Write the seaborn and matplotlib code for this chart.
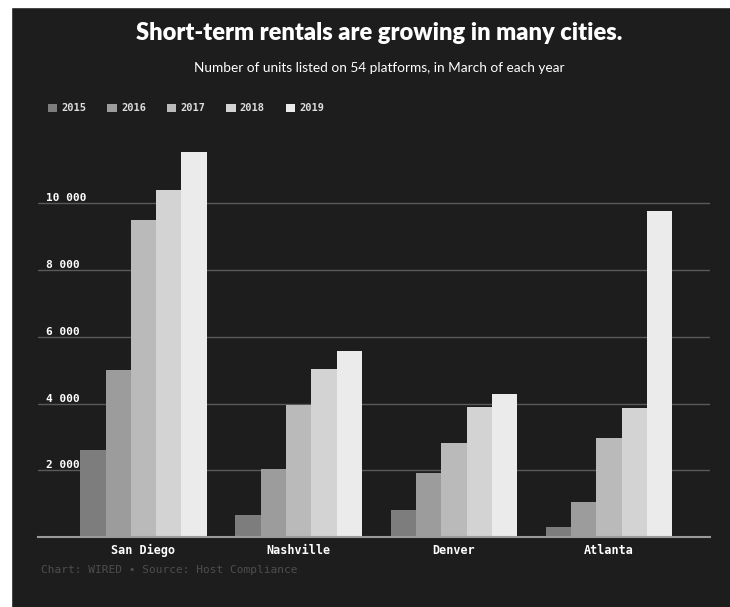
import pandas as pd
import matplotlib
matplotlib.use('Agg')
import matplotlib.pyplot as plt
import seaborn as sns
from matplotlib.patches import Rectangle

# Data (units listed)
cities = ['San Diego', 'Nashville', 'Denver', 'Atlanta']
years = ['2015', '2016', '2017', '2018', '2019']
units_2015 = [2600, 660, 800, 310]
units_2016 = [5000, 2050, 1910, 1040]
units_2017 = [9500, 3960, 2810, 2960]
units_2018 = [10400, 5050, 3910, 3870]
units_2019 = [11550, 5580, 4290, 9760]
y_ticks = [2000, 4000, 6000, 8000, 10000]
y_tick_labels = ['2 000', '4 000', '6 000', '8 000', '10 000']

bg = '#1d1d1d'
palette = ['#7d7d7d', '#9c9c9c', '#bababa', '#d3d3d3', '#ebebeb']
mono = 'DejaVu Sans Mono'

rows = []
for yr, vals in zip(years, [units_2015, units_2016, units_2017, units_2018, units_2019]):
    for c, v in zip(cities, vals):
        rows.append({'city': c, 'year': yr, 'units': v})
df = pd.DataFrame(rows)

sns.set_theme(style='dark')
fig = plt.figure(figsize=(7.3, 6.07), dpi=100, facecolor=bg)
ax = fig.add_axes([0.052, 0.115, 0.9205, 0.660])
ax.set_facecolor(bg)

sns.barplot(data=df, x='city', y='units', hue='year', palette=palette,
            width=0.815, gap=0, saturation=1, ax=ax, edgecolor='none')

ax.set_xlim(-0.68, 3.65)
ax.set_ylim(0, 12000)
ax.set_yticks(y_ticks)
ax.set_yticklabels(y_tick_labels)
ax.grid(axis='y', color='#5a5a5a', linewidth=1.0)
ax.grid(axis='x', visible=False)
ax.set_axisbelow(True)
for s in ['top', 'right', 'left']:
    ax.spines[s].set_visible(False)
ax.spines['bottom'].set_color('#9a9a9a')
ax.spines['bottom'].set_linewidth(1.5)
ax.set_xlabel('')
ax.set_ylabel('')

ax.tick_params(axis='y', length=0, pad=-6, labelsize=8, labelcolor='white')
for lab in ax.get_yticklabels():
    lab.set_horizontalalignment('left')
    lab.set_verticalalignment('bottom')
    lab.set_fontfamily(mono)
    lab.set_fontweight('bold')
ax.tick_params(axis='x', length=0, pad=5, labelsize=8.5, labelcolor='white')
for lab in ax.get_xticklabels():
    lab.set_fontfamily(mono)
    lab.set_fontweight('bold')

leg = ax.legend(loc='upper left', bbox_to_anchor=(0.053, 0.845), bbox_transform=fig.transFigure,
                ncol=5, frameon=False, handlelength=0.9, handleheight=0.9,
                handletextpad=0.4, columnspacing=2.0,
                prop={'family': mono, 'size': 7.5, 'weight': 'bold'})
for t in leg.get_texts():
    t.set_color('#dddddd')

fig.text(0.52, 0.945, 'Short-term rentals are growing in many cities.',
         ha='center', va='center', color='white', fontsize=17,
         fontweight='heavy', family='Lato')
fig.text(0.52, 0.888, 'Number of units listed on 54 platforms, in March of each year',
         ha='center', va='center', color='white', fontsize=9.8, family='Lato')
fig.text(0.056, 0.061, 'Chart: WIRED \u2022 Source: Host Compliance',
         ha='left', va='center', color='#4e4e4e', fontsize=8, family=mono)

# white paper margin around the photographed screen
fig.add_artist(Rectangle((0, 0), 11 / 730, 1, transform=fig.transFigure,
                         color='white', zorder=10))
fig.add_artist(Rectangle((0, 1 - 7 / 607), 1, 7 / 607, transform=fig.transFigure,
                         color='white', zorder=10))

fig.savefig('out.png', dpi=100, facecolor=bg)
